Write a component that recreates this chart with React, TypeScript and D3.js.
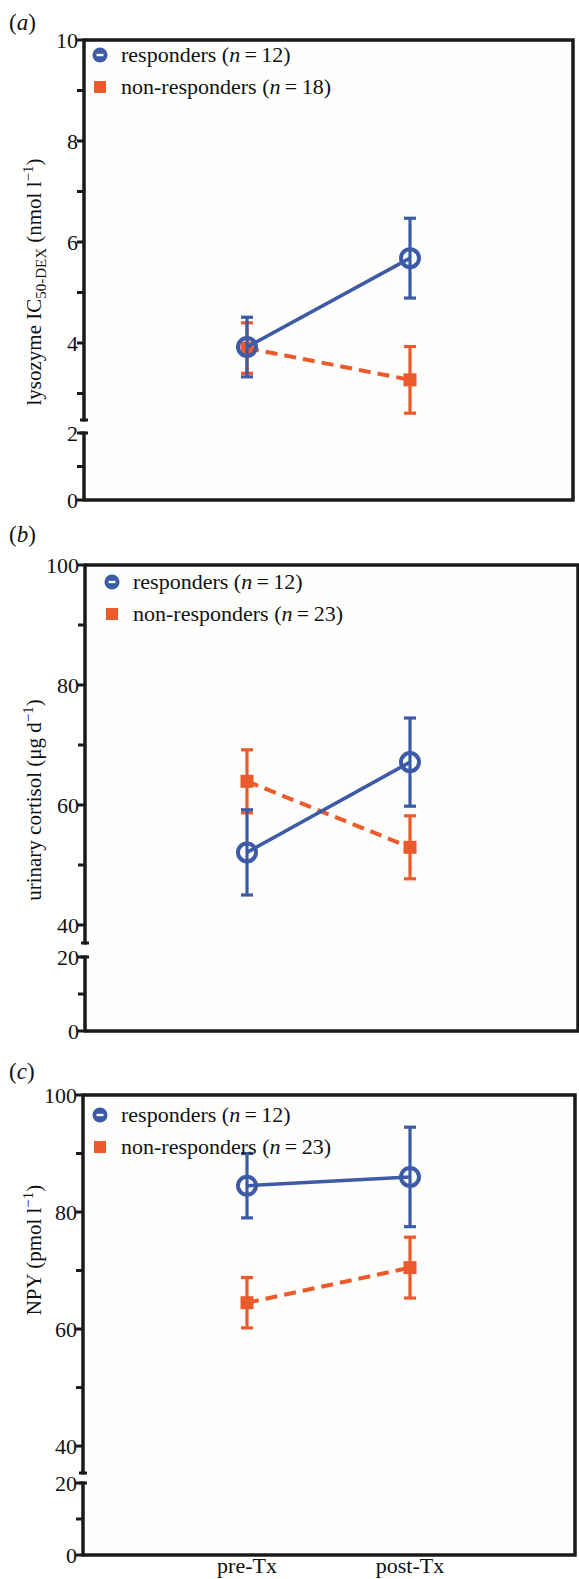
import React, { useEffect, useRef } from 'react';
import * as d3 from 'd3';

// x categories
const groups = ['pre-Tx', 'post-Tx'];

// (a) lysozyme IC50-DEX
const lysoResp = [3.92, 5.68];
const lysoRespErr = [0.59, 0.79];
const lysoNon = [3.9, 3.27];
const lysoNonErr = [0.5, 0.66];
const lysoMajor = [0, 2, 4, 6, 8, 10];
const lysoMinor = [1, 3, 5, 7, 9];

// (b) urinary cortisol
const cortResp = [52.1, 67.15];
const cortRespErr = [7.1, 7.35];
const cortNon = [63.95, 52.95];
const cortNonErr = [5.25, 5.25];

// (c) NPY
const npyResp = [84.5, 86];
const npyRespErr = [5.5, 8.5];
const npyNon = [64.5, 70.5];
const npyNonErr = [4.3, 5.2];

const bigMajor = [0, 20, 40, 60, 80, 100];
const bigMinor = [10, 50, 70, 90];

const nResp = [12, 12, 12];
const nNon = [18, 23, 23];

const BLUE = '#3d5aa6';
const ORANGE = '#ec5a2c';
const INK = '#1a1a1a';
const FONT = '"Liberation Serif", "Times New Roman", serif';

const panels = [
  {
    tag: 'a', left: 84, right: 573, top: 40, bottom: 500,
    upper: [2.475, 10], breakY: 420, lower: [0, 2], lowerTop: 433,
    major: lysoMajor, minor: lysoMinor,
    resp: lysoResp, respErr: lysoRespErr, non: lysoNon, nonErr: lysoNonErr,
    titleY: 282, tagY: 30, legX: 100, legY: 55,
    title: [['lysozyme IC', 0], ['50-DEX', 1], [' (nmol l', 0], ['−1', 2], [')', 0]],
  },
  {
    tag: 'b', left: 85, right: 578, top: 565, bottom: 1031,
    upper: [37, 100], breakY: 943, lower: [0, 20], lowerTop: 957,
    major: bigMajor, minor: bigMinor,
    resp: cortResp, respErr: cortRespErr, non: cortNon, nonErr: cortNonErr,
    titleY: 800, tagY: 542, legX: 112, legY: 582,
    title: [['urinary cortisol (μg d', 0], ['−1', 2], [')', 0]],
  },
  {
    tag: 'c', left: 83, right: 575, top: 1095, bottom: 1555,
    upper: [35.4, 100], breakY: 1473, lower: [0, 20], lowerTop: 1483,
    major: bigMajor, minor: bigMinor,
    resp: npyResp, respErr: npyRespErr, non: npyNon, nonErr: npyNonErr,
    titleY: 1250, tagY: 1079, legX: 100, legY: 1115,
    title: [['NPY (pmol l', 0], ['−1', 2], [')', 0]],
  },
];

const App = () => {
  const svgRef = useRef(null);

  useEffect(() => {
    const svg = d3.select(svgRef.current);
    svg.selectAll('*').remove();
    svg.attr('width', 579).attr('height', 1579);

    const txt = (sel) => sel.attr('font-family', FONT).attr('fill', '#111');
    const x = d3.scalePoint().domain(groups).range([84, 573]).padding(1);

    panels.forEach((p, pi) => {
      const g = svg.append('g');
      const up = d3.scaleLinear().domain(p.upper).range([p.breakY, p.top]);
      const lo = d3.scaleLinear().domain(p.lower).range([p.bottom, p.lowerTop]);
      const y = (v) => (v >= p.upper[0] ? up(v) : lo(v));

      // plot area
      g.append('rect')
        .attr('x', p.left).attr('y', p.top)
        .attr('width', p.right - p.left).attr('height', p.bottom - p.top)
        .attr('fill', '#fefefc');

      // frame (top, right, bottom)
      g.append('path')
        .attr('d', `M${p.left},${p.top}H${p.right}V${p.bottom}H${p.left}`)
        .attr('fill', 'none').attr('stroke', INK).attr('stroke-width', 3.5);

      // broken y axis
      [[p.top, p.breakY], [p.lowerTop, p.bottom]].forEach(([a, b]) => {
        g.append('line')
          .attr('x1', p.left).attr('x2', p.left).attr('y1', a - 1.5).attr('y2', b + 1.5)
          .attr('stroke', INK).attr('stroke-width', 3.5);
      });
      [p.breakY, p.lowerTop].forEach((yy) => {
        g.append('line')
          .attr('x1', p.left - 4).attr('x2', p.left + 4).attr('y1', yy).attr('y2', yy)
          .attr('stroke', INK).attr('stroke-width', 3);
      });

      const ticks = p.major.filter((v) => v >= p.upper[0] || v <= p.lower[1]);
      const minors = p.minor.filter((v) => v >= p.upper[0] || v <= p.lower[1]);
      ticks.concat(minors).forEach((v) => {
        g.append('line')
          .attr('x1', p.left - 7).attr('x2', p.left).attr('y1', y(v)).attr('y2', y(v))
          .attr('stroke', INK).attr('stroke-width', 3);
      });
      g.selectAll('.tl').data(ticks).enter().append('text')
        .call(txt)
        .attr('x', p.left - 6).attr('y', (d) => y(d)).attr('dy', '0.35em')
        .attr('text-anchor', 'end').attr('font-size', 22)
        .text((d) => d);

      // y title
      const t = g.append('text').call(txt)
        .attr('transform', `translate(41,${p.titleY}) rotate(-90)`)
        .attr('text-anchor', 'middle').attr('font-size', 21);
      let shift = 0;
      p.title.forEach(([s, kind]) => {
        const target = kind === 1 ? 5 : kind === 2 ? -8 : 0;
        t.append('tspan')
          .attr('dy', target - shift)
          .attr('font-size', kind ? 15 : 21)
          .text(s);
        shift = target;
      });

      // panel tag
      const tag = g.append('text').call(txt).attr('x', 9).attr('y', p.tagY)
        .attr('font-size', 23);
      tag.append('tspan').text('(');
      tag.append('tspan').attr('font-style', 'italic').text(p.tag);
      tag.append('tspan').text(')');

      // series
      const series = [
        { v: p.non, e: p.nonErr, c: ORANGE, dash: '12,7', w: 4, kind: 'sq' },
        { v: p.resp, e: p.respErr, c: BLUE, dash: null, w: 3.5, kind: 'ci' },
      ];
      series.forEach((s) => {
        const pts = groups.map((gName, i) => ({ x: x(gName), v: s.v[i], e: s.e[i] }));
        pts.forEach((d) => {
          g.append('line')
            .attr('x1', d.x).attr('x2', d.x).attr('y1', y(d.v + d.e)).attr('y2', y(d.v - d.e))
            .attr('stroke', s.c).attr('stroke-width', 3.2);
          [d.v + d.e, d.v - d.e].forEach((ev) => {
            g.append('line')
              .attr('x1', d.x - 6).attr('x2', d.x + 6).attr('y1', y(ev)).attr('y2', y(ev))
              .attr('stroke', s.c).attr('stroke-width', 3.2);
          });
        });
        const line = d3.line().x((d) => d.x).y((d) => y(d.v));
        g.append('path').attr('d', line(pts))
          .attr('fill', 'none').attr('stroke', s.c).attr('stroke-width', s.w)
          .attr('stroke-dasharray', s.dash);
        pts.forEach((d) => {
          if (s.kind === 'ci') {
            g.append('circle').attr('cx', d.x).attr('cy', y(d.v)).attr('r', 9)
              .attr('fill', 'none').attr('stroke', s.c).attr('stroke-width', 4);
          } else {
            g.append('rect').attr('x', d.x - 6.5).attr('y', y(d.v) - 6.5)
              .attr('width', 13).attr('height', 13).attr('fill', s.c);
          }
        });
      });

      // legend
      const lx = p.legX;
      const ly = p.legY;
      g.append('circle').attr('cx', lx).attr('cy', ly).attr('r', 7.5).attr('fill', BLUE);
      g.append('rect').attr('x', lx - 3.5).attr('y', ly - 1.2).attr('width', 7).attr('height', 2.4).attr('fill', '#fff');
      g.append('rect').attr('x', lx - 6).attr('y', ly + 32 - 6).attr('width', 12).attr('height', 12).attr('fill', ORANGE);
      const legRows = [
        ['responders', nResp[pi], ly + 7],
        ['non-responders', nNon[pi], ly + 39],
      ];
      legRows.forEach(([label, n, by]) => {
        const lt = g.append('text').call(txt).attr('x', lx + 21).attr('y', by)
          .attr('font-size', 22);
        lt.append('tspan').text(`${label} (`);
        lt.append('tspan').attr('font-style', 'italic').text('n');
        lt.append('tspan').text(`\u2009=\u2009${n})`);
      });
    });

    // x labels
    svg.selectAll('.xl').data(groups).enter().append('text')
      .call(txt)
      .attr('x', (d) => x(d)).attr('y', 1573)
      .attr('text-anchor', 'middle').attr('font-size', 22)
      .text((d) => d);
  }, []);

  return (
    <div style={{ position: 'absolute', left: 0, top: 0, background: '#fff' }}>
      <svg ref={svgRef} style={{ display: 'block' }}></svg>
    </div>
  );
};

export default App;
